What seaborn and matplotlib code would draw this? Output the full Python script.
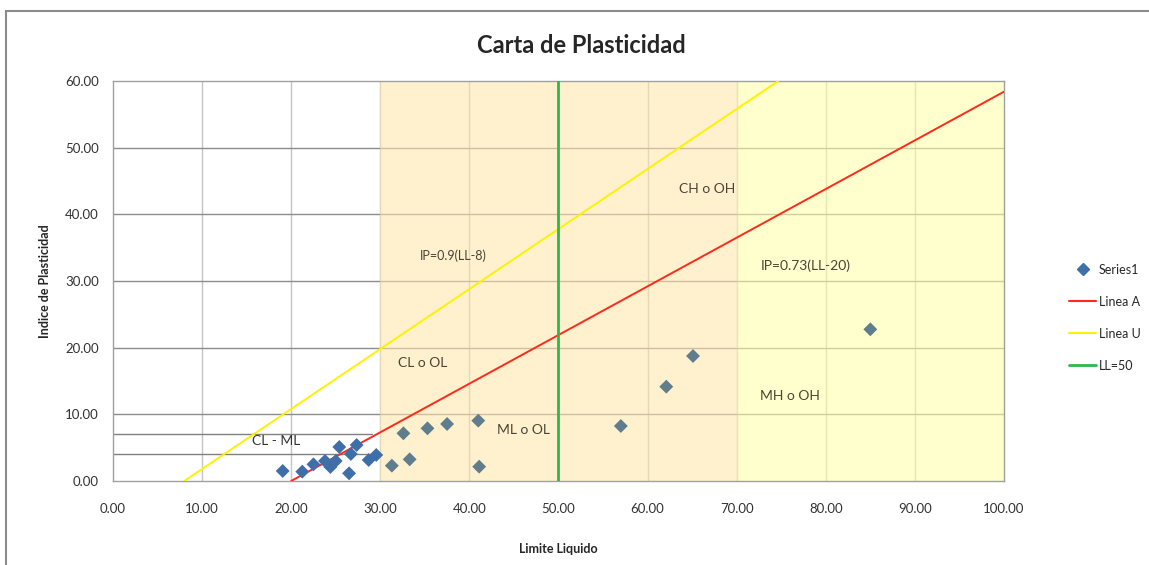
import numpy as np
import pandas as pd
import matplotlib
matplotlib.use("Agg")
import matplotlib.pyplot as plt
from matplotlib.lines import Line2D
from matplotlib.patches import Rectangle
import seaborn as sns

# puntos ensayados (LL, IP)
limite_liquido = [19.05, 21.25, 22.5, 23.8, 24.4, 25.0, 25.4, 26.5, 26.7, 27.35, 28.7, 29.55,
                  31.3, 32.6, 33.3, 35.3, 37.5, 41.0, 41.1, 57.0, 62.1, 65.1, 85.0]
indice_plasticidad = [1.5, 1.4, 2.5, 3.0, 2.1, 3.0, 5.1, 1.15, 4.05, 5.4, 3.15, 3.9,
                      2.3, 7.15, 3.25, 7.9, 8.55, 9.05, 2.15, 8.25, 14.15, 18.75, 22.75]

# lineas de la carta
linea_a_ll = [20, 100]
linea_a_ip = [0, 58.4]
linea_u_ll = [8, 74.67]
linea_u_ip = [0, 60]
ll50_ll = [50, 50]
ll50_ip = [0, 60]
cl_ml_ip = [4, 7]
cl_ml_ll_fin = 29.1

zonas = ["CH o OH", "IP=0.9(LL-8)", "IP=0.73(LL-20)", "CL o OL", "ML o OL", "MH o OH", "CL - ML"]
zonas_ll = [66.7, 38.2, 77.7, 34.8, 46.1, 76.0, 18.3]
zonas_ip = [43.8, 33.75, 32.25, 17.7, 7.65, 12.75, 6.0]

#%%
sns.set_style("white")
plt.rcParams["font.family"] = ["Lato", "DejaVu Sans"]

fig = plt.figure(figsize=(11.49, 5.65), dpi=100)
ax = fig.add_axes([0.0983, 0.1487, 0.7755, 0.7079])

ax.set_xlim(0, 100)
ax.set_ylim(0, 60)
ax.set_xticks(np.arange(0, 101, 10))
ax.set_yticks(np.arange(0, 61, 10))
ax.set_xticklabels(["{:.2f}".format(v) for v in np.arange(0, 101, 10)], fontsize=9.5, color="#333333")
ax.set_yticklabels(["{:.2f}".format(v) for v in np.arange(0, 61, 10)], fontsize=9.5, color="#333333")
ax.tick_params(axis="x", length=0, pad=16)
ax.tick_params(axis="y", length=0, pad=10)

for v in np.arange(10, 100, 10):
    ax.axvline(v, color="#C4C4C4", lw=1, zorder=0.5)
for v in np.arange(10, 60, 10):
    ax.axhline(v, color="#8C8C8C", lw=1, zorder=0.5)

# zonas sombreadas
ax.axvspan(30, 70, color="#FFE6AC", alpha=0.58, lw=0, zorder=1)
ax.axvspan(70, 100, color="#FFFFAA", alpha=0.58, lw=0, zorder=1)

for s in ax.spines.values():
    s.set_color("#A0A0A0")
    s.set_linewidth(1)

for y in cl_ml_ip:
    ax.plot([0, cl_ml_ll_fin], [y, y], color="#808080", lw=1, zorder=2)

sns.lineplot(x=linea_a_ll, y=linea_a_ip, ax=ax, color="#FF2A1A", lw=1.4, zorder=3,
             estimator=None, sort=False)
sns.lineplot(x=linea_u_ll, y=linea_u_ip, ax=ax, color="#FFF200", lw=1.4, zorder=3,
             estimator=None, sort=False)
sns.lineplot(x=ll50_ll, y=ll50_ip, ax=ax, color="#2DB84A", lw=2, zorder=3,
             estimator=None, sort=False)

df = pd.DataFrame({"LL": limite_liquido, "IP": indice_plasticidad})
colores = np.where(df["LL"] < 30, "#3F6FA8", "#5F7D8C")
sns.scatterplot(data=df, x="LL", y="IP", ax=ax, marker="D", s=50, c=colores,
                edgecolor="none", zorder=4, clip_on=False)

for t, x, y in zip(zonas, zonas_ll, zonas_ip):
    fs = 9 if t == "IP=0.9(LL-8)" else 10
    col = "#333333" if t == "CL - ML" else "#4A4535"
    ax.text(x, y, t, ha="center", va="center", fontsize=fs, color=col, zorder=5)

ax.set_xlabel("Limite Liquido", fontsize=9, fontweight="bold", labelpad=20)
ax.set_ylabel("Indice de Plasticidad", fontsize=9, fontweight="bold", labelpad=10)
fig.text(0.506, 0.92, "Carta de Plasticidad", ha="center", va="center",
         fontsize=17, fontweight="bold")

handles = [
    Line2D([], [], marker="D", color="#3F6FA8", ls="none", markersize=6),
    Line2D([], [], color="#FF2A1A", lw=1.5),
    Line2D([], [], color="#FFF200", lw=1.5),
    Line2D([], [], color="#2DB84A", lw=2),
]
fig.legend(handles, ["Series1", "Linea A", "Linea U", "LL=50"], loc="center left",
           bbox_to_anchor=(0.926, 0.438), frameon=False, fontsize=9,
           labelspacing=1.6, handlelength=2.2, handletextpad=0.2, borderaxespad=0)

fig.patches.append(Rectangle((0.0052, -0.1), 1.2, 1.0805, transform=fig.transFigure,
                             fill=False, edgecolor="#8C8C8C", lw=1.5))

fig.savefig("out.png", dpi=100, facecolor="w")
